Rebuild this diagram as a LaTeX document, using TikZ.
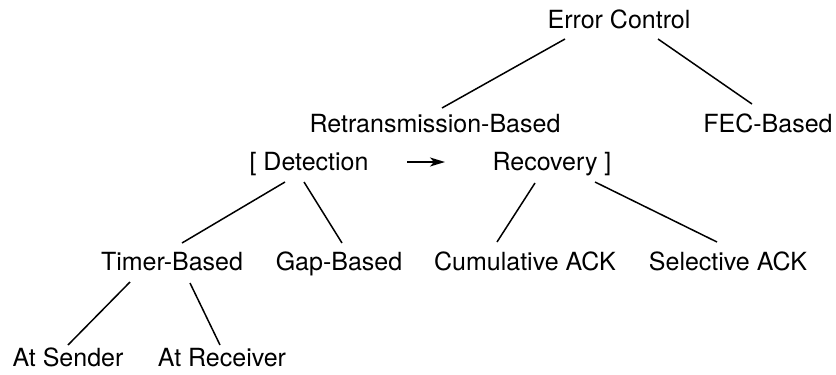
\documentclass[tikz,border=0pt]{standalone}
\usepackage{fontspec}
\setmainfont{TeX Gyre Heros}
\usetikzlibrary{arrows.meta}
\begin{document}
\begin{tikzpicture}[x=1pt,y=-1pt,
  lbl/.style={anchor=base,inner sep=0pt,font=\fontsize{25}{30}\selectfont},
  edge/.style={line width=1.5pt},
  flow/.style={line width=1.6pt,-{Stealth[length=15pt,width=9pt,inset=4pt]}}]
\useasboundingbox (0,0) rectangle (836,375);
\node[lbl] (ec)  at (619,28)  {Error Control};
\node[lbl] (rb)  at (435,132) {Retransmission-Based};
\node[lbl] (fec) at (768,132) {FEC-Based};
\node[lbl] (det) at (309,170) {[ Detection};
\node[lbl] (rec) at (552,170) {Recovery ]};
\node[lbl] (tim) at (172,270) {Timer-Based};
\node[lbl] (gap) at (339,270) {Gap-Based};
\node[lbl] (cum) at (525,270) {Cumulative ACK};
\node[lbl] (sel) at (728,270) {Selective ACK};
\node[lbl] (snd) at (68,366)  {At Sender};
\node[lbl] (rcv) at (222,366) {At Receiver};
\draw[edge] ([shift={(-54,11)}]ec.base) -- ([shift={(7,-24)}]rb.base);
\draw[edge] ([shift={(39,11)}]ec.base) -- ([shift={(-16,-28)}]fec.base);
\draw[edge] ([shift={(-24,12)}]det.base) -- ([shift={(10,-27)}]tim.base);
\draw[edge] ([shift={(-5,12)}]det.base) -- ([shift={(3,-27)}]gap.base);
\draw[edge] ([shift={(-17,13)}]rec.base) -- ([shift={(-28,-28)}]cum.base);
\draw[edge] ([shift={(43,12)}]rec.base) -- ([shift={(-11,-28)}]sel.base);
\draw[edge] ([shift={(-42,12)}]tim.base) -- ([shift={(0,-21)}]snd.base);
\draw[edge] ([shift={(18,13)}]tim.base) -- ([shift={(-2,-21)}]rcv.base);
\draw[flow] ([shift={(98,-8)}]det.base) -- ([shift={(-107,-8)}]rec.base);
\end{tikzpicture}
\end{document}
